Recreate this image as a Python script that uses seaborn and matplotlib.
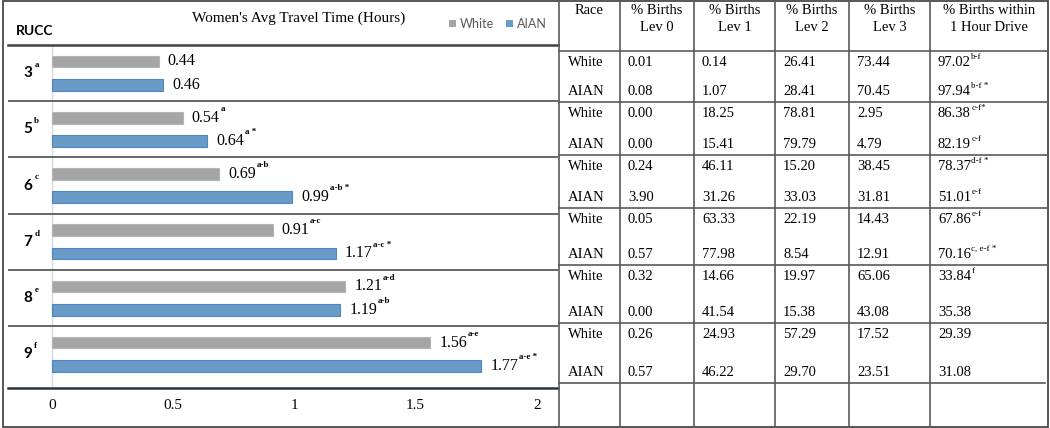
import numpy as np
import pandas as pd
import matplotlib.pyplot as plt
import seaborn as sns

plt.rcParams['font.family'] = 'Liberation Serif'

# bar chart data
rucc = ["3", "5", "6", "7", "8", "9"]
rucc_sup = ["a", "b", "c", "d", "e", "f"]
races = ["White", "AIAN"]
travel_white = [0.44, 0.54, 0.69, 0.91, 1.21, 1.56]
travel_aian = [0.46, 0.64, 0.99, 1.17, 1.19, 1.77]
sup_white = ["", "a", "a-b", "a-c", "a-d", "a-e"]
sup_aian = ["", "a *", "a-b *", "a-c *", "a-b", "a-e *"]

# table data
col_heads = ["Race", "% Births\nLev 0", "% Births\nLev 1", "% Births\nLev 2",
             "% Births\nLev 3", "% Births within\n1 Hour Drive"]
lev0_white = [0.01, 0.00, 0.24, 0.05, 0.32, 0.26]
lev0_aian = [0.08, 0.00, 3.90, 0.57, 0.00, 0.57]
lev1_white = [0.14, 18.25, 46.11, 63.33, 14.66, 24.93]
lev1_aian = [1.07, 15.41, 31.26, 77.98, 41.54, 46.22]
lev2_white = [26.41, 78.81, 15.20, 22.19, 19.97, 57.29]
lev2_aian = [28.41, 79.79, 33.03, 8.54, 15.38, 29.70]
lev3_white = [73.44, 2.95, 38.45, 14.43, 65.06, 17.52]
lev3_aian = [70.45, 4.79, 31.81, 12.91, 43.08, 23.51]
hour_white = [97.02, 86.38, 78.37, 67.86, 33.84, 29.39]
hour_aian = [97.94, 82.19, 51.01, 70.16, 35.38, 31.08]
hour_sup_white = ["b-f", "c-f*", "d-f *", "e-f", "f", ""]
hour_sup_aian = ["b-f *", "c-f", "e-f", "c, e-f *", "", ""]

gray = "#A5A5A5"
blue = "#5B9BD5"
line_c = "#5a5a5a"

W, H = 1050, 428
fig = plt.figure(figsize=(W / 100, H / 100), dpi=100)


def frac(x0, y0, x1, y1):
    return [x0 / W, 1 - y1 / H, (x1 - x0) / W, (y1 - y0) / H]


df = pd.DataFrame({
    "RUCC": rucc * 2,
    "Race": ["White"] * len(rucc) + ["AIAN"] * len(rucc),
    "Hours": travel_white + travel_aian,
})

ax = fig.add_axes(frac(8, 45, 558, 388))
sns.barplot(data=df, y="RUCC", x="Hours", hue="Race", order=rucc, hue_order=races,
            palette=[gray, blue], orient="h", width=0.83, gap=0.5, ax=ax)
for cont, ec in zip(ax.containers, ["#b5b5b5", "#4a88c9"]):
    for bar in cont:
        bar.set_edgecolor(ec)
        bar.set_linewidth(0.8)

ax.set_xlim(-0.181, 2.087)
ax.set_ylim(5.6, -0.5)
ax.set_xticks([0, 0.5, 1, 1.5, 2])
ax.set_xticklabels(["0", "0.5", "1", "1.5", "2"], fontsize=11)
ax.tick_params(axis="x", length=0, pad=8)
ax.set_yticks([])
ax.set_xlabel("")
ax.set_ylabel("")
for sp in ["left", "right"]:
    ax.spines[sp].set_visible(False)
ax.spines["top"].set_color("#404040")
ax.spines["top"].set_linewidth(1.8)
ax.spines["bottom"].set_color("#2b3340")
ax.spines["bottom"].set_linewidth(1.8)
ax.axvline(0, color="#d9d9d9", lw=1, zorder=0)
for k in range(len(rucc) - 1):
    ax.axhline(k + 0.5, color=line_c, lw=1.3)

sns.move_legend(ax, "center right", bbox_to_anchor=(1.0, 1.061), ncol=2, frameon=False,
                title=None, prop={"family": "Lato", "size": 9}, handlelength=0.55,
                handleheight=0.55, handletextpad=0.3, columnspacing=1.0,
                labelcolor="#595959")

# value labels with superscripts
for cont, vals, sups in zip(ax.containers, [travel_white, travel_aian], [sup_white, sup_aian]):
    for bar, v, s in zip(cont, vals, sups):
        t = ax.annotate(f"{v:.2f}", xy=(bar.get_width(), bar.get_y() + bar.get_height() / 2),
                        xytext=(6.5, 0), textcoords="offset points", va="center", ha="left",
                        fontsize=11.5)
        if s:
            ax.annotate(s, xy=(1, 0.8), xycoords=t, xytext=(0.5, 0), textcoords="offset points",
                        va="bottom", ha="left", fontsize=6.5, fontweight="bold")

# RUCC labels
for i, (r, s) in enumerate(zip(rucc, rucc_sup)):
    t = ax.text(0.036, i, r, transform=ax.get_yaxis_transform(), ha="center", va="center",
                fontsize=11, fontweight="bold", family="Lato")
    ax.annotate(s, xy=(1, 0.8), xycoords=t, xytext=(1.5, 0), textcoords="offset points",
                va="bottom", ha="left", fontsize=6.5, fontweight="bold")

# overlay for header, borders and table
lay = fig.add_axes([0, 0, 1, 1])
lay.set_xlim(0, W)
lay.set_ylim(H, 0)
lay.axis("off")

lay.text(299, 18, "Women's Avg Travel Time (Hours)", ha="center", va="center", fontsize=11)
lay.text(16, 31, "RUCC", ha="left", va="center", fontsize=10, fontweight="bold", family="Lato")

lay.add_patch(plt.Rectangle((2.5, 1), 1045.5, 426, fill=False, ec="#4a4a4a", lw=1.3))

col_lines = [559, 620, 694, 775, 849, 930, 1048]
row_lines = [51, 102, 155, 208, 265, 323, 383]
for x in col_lines[:-1]:
    lay.plot([x, x], [0, 427], color=line_c, lw=1.2)
for y in row_lines:
    lay.plot([559, 1045 if y == row_lines[-1] else 1048], [y, y], color=line_c, lw=1.2)

for j, head in enumerate(col_heads):
    cx = (col_lines[j] + col_lines[j + 1]) / 2
    lay.text(cx, 4, head, ha="center", va="top", fontsize=10.5, linespacing=1.4)

cols_white = [lev0_white, lev1_white, lev2_white, lev3_white, hour_white]
cols_aian = [lev0_aian, lev1_aian, lev2_aian, lev3_aian, hour_aian]
for i in range(len(rucc)):
    top, bot = row_lines[i], row_lines[i + 1]
    for race, yy, cols, sups in [("White", top + 11, cols_white, hour_sup_white),
                                 ("AIAN", bot - 11, cols_aian, hour_sup_aian)]:
        lay.text(568, yy, race, ha="left", va="center", fontsize=10.5)
        for j, col in enumerate(cols):
            t = lay.text(col_lines[j + 1] + 8, yy, f"{col[i]:.2f}", ha="left", va="center",
                         fontsize=10.5)
        if sups[i]:
            lay.annotate(sups[i], xy=(1, 0.6), xycoords=t, xytext=(0.3, 0),
                         textcoords="offset points", va="bottom", ha="left", fontsize=6.5)

fig.savefig("out.png", dpi=100)
